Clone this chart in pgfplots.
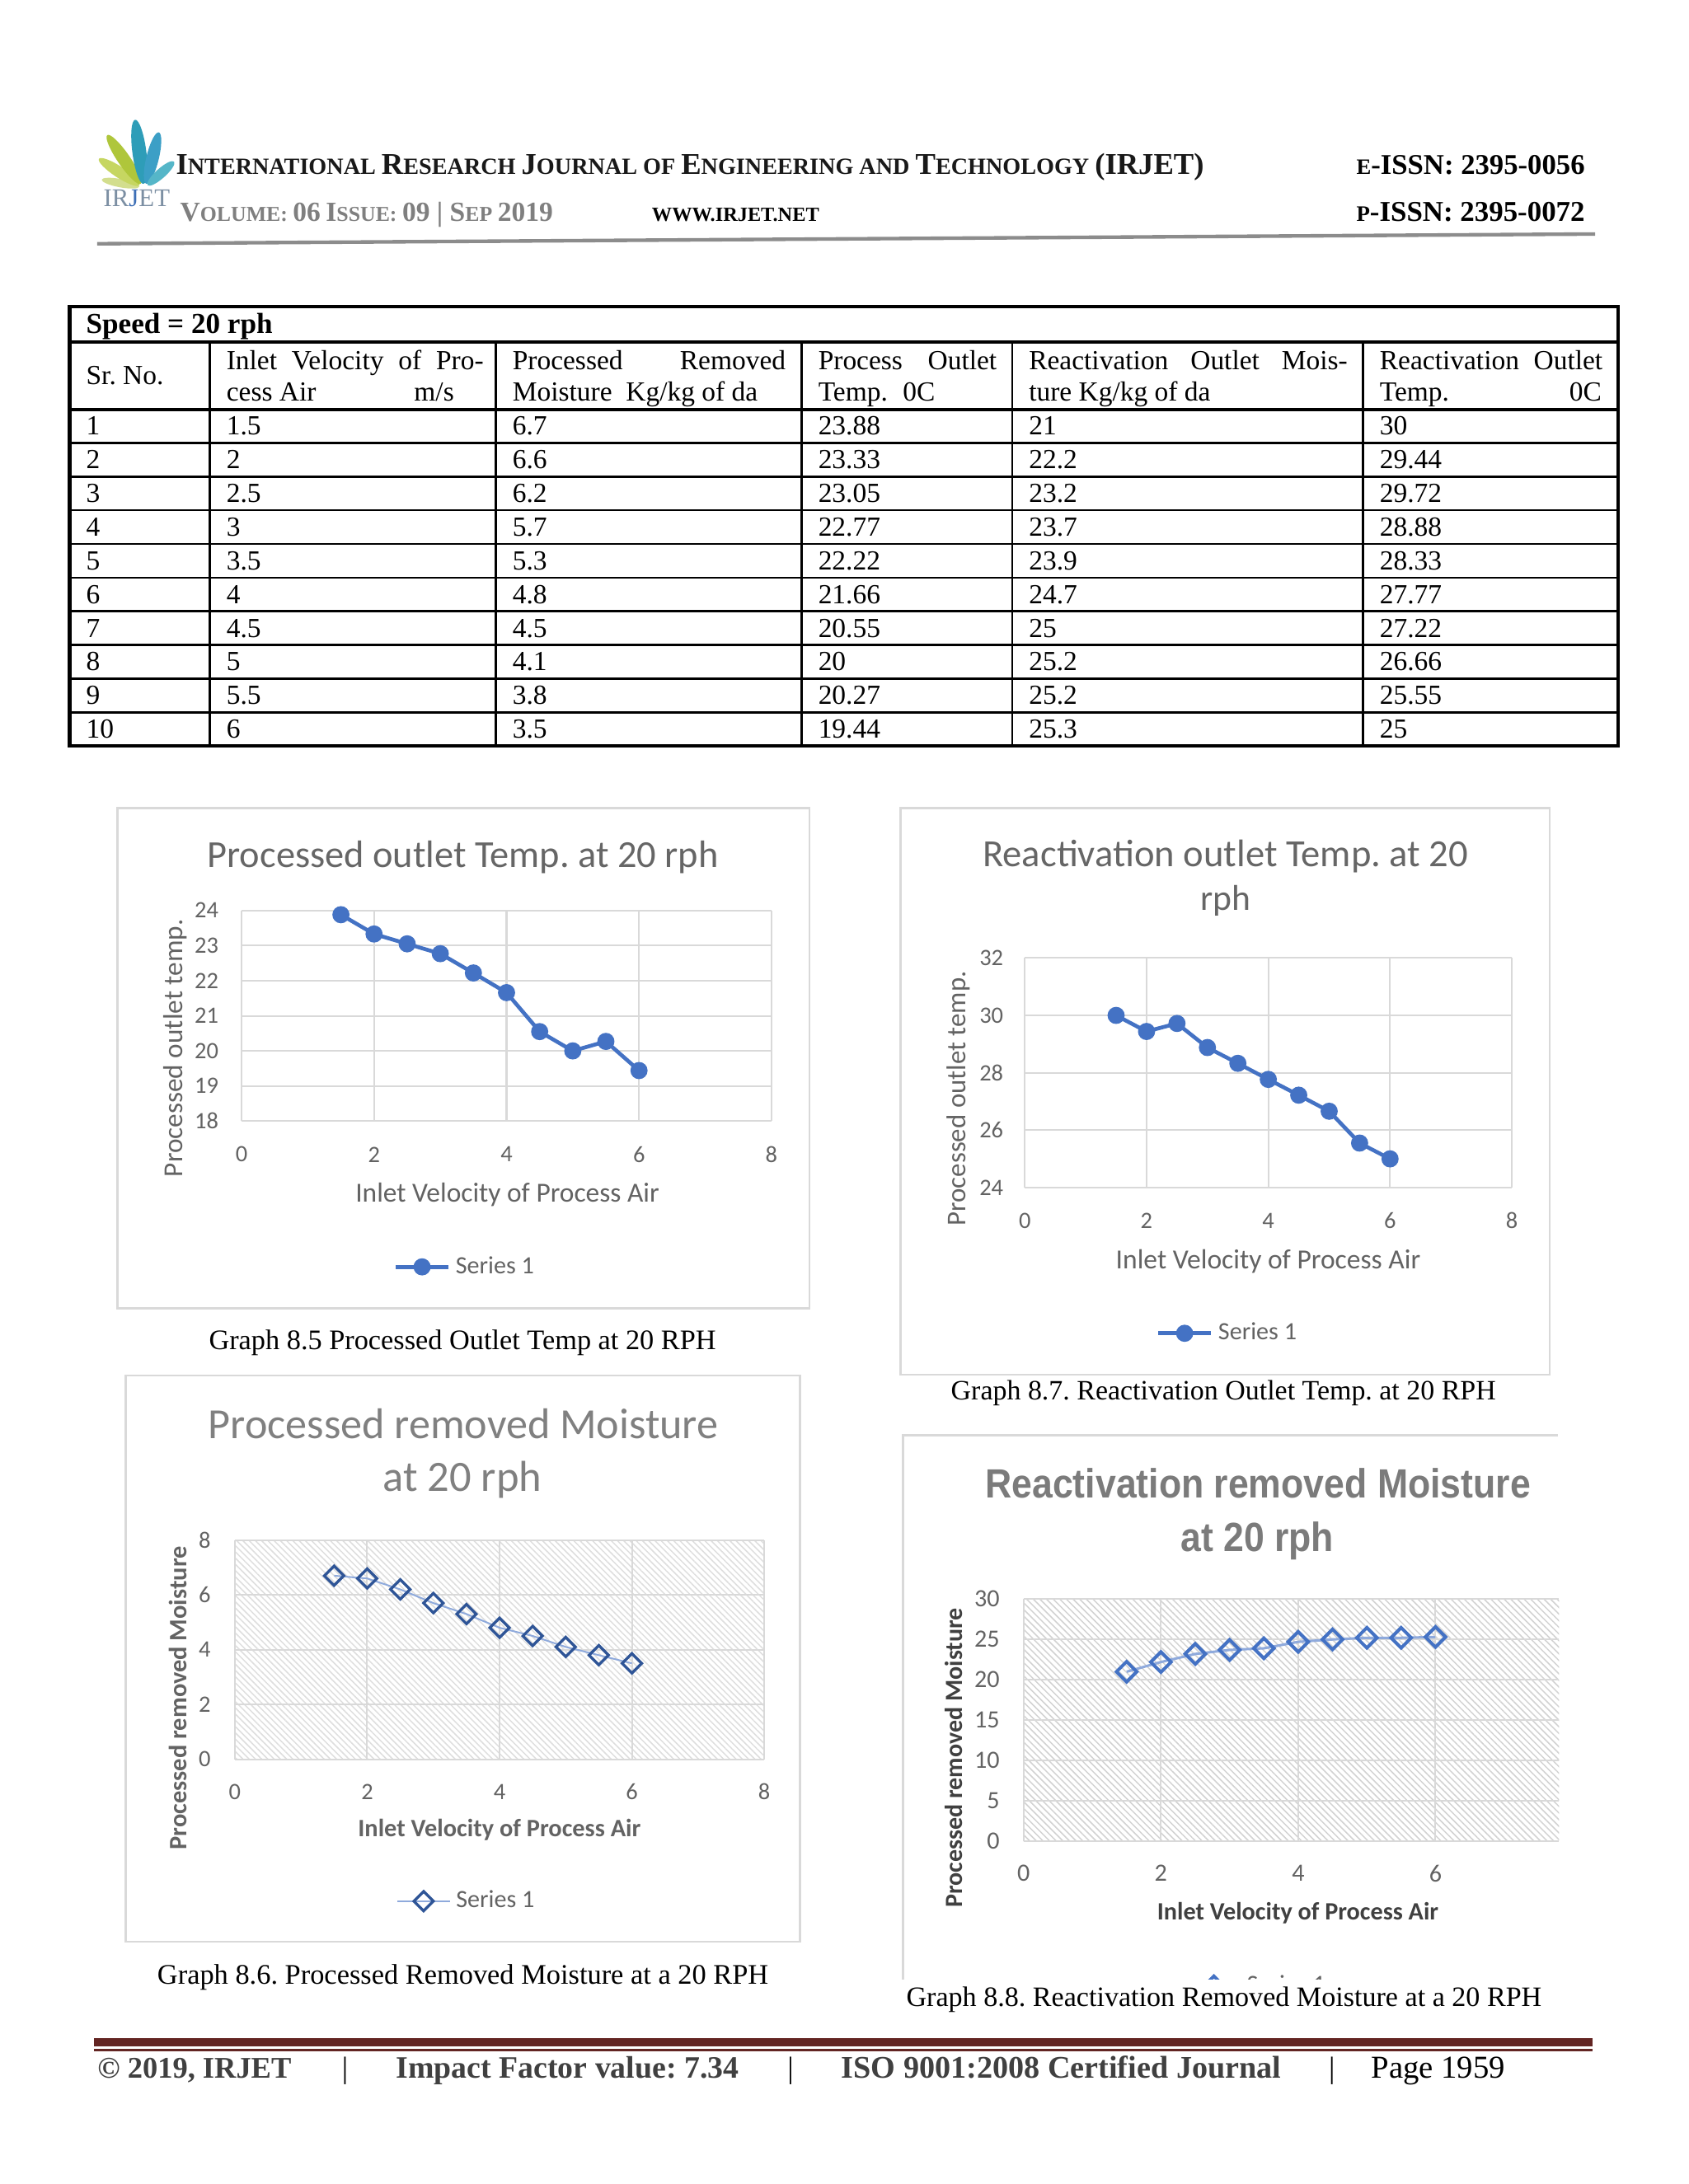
\documentclass[border=0pt]{standalone}
\usepackage{pgfplots}
\pgfplotsset{compat=1.18}
\usepackage{pgfplotstable}
\usepackage{graphicx}
\usepackage{fontspec}
\usetikzlibrary{patterns.meta}
\setmainfont{Liberation Serif}
\newfontfamily\calib{Carlito}
\newfontfamily\arl{Liberation Sans}
\frenchspacing

\definecolor{xblue}{HTML}{4472C4}
\definecolor{dblue}{HTML}{2F5597}
\definecolor{lblue}{HTML}{8FAADC}
\definecolor{gridc}{HTML}{D9D9D9}
\definecolor{labc}{HTML}{636363}
\definecolor{lab4}{HTML}{404040}
\definecolor{tit1}{HTML}{666666}
\definecolor{tit3}{HTML}{808080}
\definecolor{tit4}{HTML}{7B7B7B}
\definecolor{framec}{HTML}{D9D9D9}
\definecolor{hatch3}{HTML}{DEDEDE}
\definecolor{hatch4}{HTML}{D2D2D2}
\definecolor{maroon}{HTML}{632523}
\definecolor{foot}{HTML}{404040}
\definecolor{volc}{HTML}{7F7F7F}
\definecolor{leafg}{HTML}{AFC63B}
\definecolor{leafy}{HTML}{C6D661}
\definecolor{leafp}{HTML}{D3DE8E}
\definecolor{leaft}{HTML}{2E9DB8}
\definecolor{leafb}{HTML}{3C9FC6}
\definecolor{leafc}{HTML}{55B6C8}
\definecolor{logog}{HTML}{7C8FA3}
\definecolor{logob}{HTML}{3D6FB6}

\newcommand\SC[2]{{\fontsize{13}{13}\selectfont #1}{\fontsize{10}{10}\selectfont #2}}

% Speed = 20 rph
\pgfplotstableread{
x pm pt rm rt
1.5 6.7 23.88 21 30
2 6.6 23.33 22.2 29.44
2.5 6.2 23.05 23.2 29.72
3 5.7 22.77 23.7 28.88
3.5 5.3 22.22 23.9 28.33
4 4.8 21.66 24.7 27.77
4.5 4.5 20.55 25 27.22
5 4.1 20 25.2 26.66
5.5 3.8 20.27 25.2 25.55
6 3.5 19.44 25.3 25
}\data

\pgfplotsset{
  xl/.style={scale only axis, anchor=south west,
    xmin=0, xmax=8, xtick={0,2,4,6,8},
    grid=major, major grid style={draw=gridc, line width=0.6pt},
    axis line style={draw=none}, tick style={draw=none},
    tick label style={font=\calib\fontsize{8.5}{9}\selectfont, text=labc, inner sep=0pt},
    /pgf/number format/assume math mode=true,
    legend style={draw=none, fill=none, anchor=center,
      font=\calib\fontsize{9}{10}\selectfont, text=labc},
    legend image code/.code={\draw[mark repeat=2,mark phase=2,##1]
      plot coordinates {(0pt,0pt) (9.5pt,0pt) (19pt,0pt)};}
  },
}

\begin{document}
\begin{tikzpicture}
\useasboundingbox (0pt,0pt) rectangle (612.06pt,-791.84pt);
\fill[white] (0pt,0pt) rectangle (612.06pt,-791.84pt);

\begin{scope}[x=0.505pt,y=-0.505pt]
% logo
\fill[leafp, rotate around={169.5:(86.5,131.5)}] (86.5,131.5) ellipse (13.7 and 3);
\fill[leafy, rotate around={146.8:(85.5,123.5)}] (85.5,123.5) ellipse (17.3 and 4);
\fill[leafg, rotate around={124.4:(89,114.5)}] (89,114.5) ellipse (21.2 and 4.5);
\fill[leaft, rotate around={97.4:(100,109)}] (100,109) ellipse (23.2 and 5);
\fill[leafb, rotate around={76.3:(109.5,113.5)}] (109.5,113.5) ellipse (19 and 4.5);
\fill[leafc, rotate around={41.8:(115.5,124.5)}] (115.5,124.5) ellipse (12.7 and 3.5);
\node[anchor=base west, inner sep=0] at (74,148.5) {\resizebox{24pt}{!}{\color{logog}IR\textcolor{logob}{J}ET}};

% header
\node[anchor=base west, inner sep=0] at (126,125.3) {\resizebox{372.6pt}{!}{\bfseries\color{black!90}\SC{I}{NTERNATIONAL} \SC{R}{ESEARCH} \SC{J}{OURNAL} \SC{}{OF} \SC{E}{NGINEERING} \SC{}{AND} \SC{T}{ECHNOLOGY} {\fontsize{13}{13}\selectfont (IRJET)}}};
\node[anchor=base east, inner sep=0] at (1138,125.3) {\resizebox{82.8pt}{!}{\bfseries\fontsize{13}{13}\selectfont{\fontsize{10}{10}\selectfont E}-ISSN: 2395-0056}};
\node[anchor=base west, inner sep=0] at (129,158.8) {\resizebox{135.1pt}{!}{\bfseries\color{volc}\SC{V}{OLUME}: {\fontsize{13}{13}\selectfont 06} \SC{I}{SSUE}: {\fontsize{13}{13}\selectfont 09 | }\SC{S}{EP} {\fontsize{13}{13}\selectfont 2019}}};
\node[anchor=base west, inner sep=0] at (467.6,158.8) {\resizebox{60.6pt}{!}{\bfseries\fontsize{10}{10}\selectfont WWW.IRJET.NET}};
\node[anchor=base east, inner sep=0] at (1138,158.8) {\resizebox{82.8pt}{!}{\bfseries\fontsize{13}{13}\selectfont{\fontsize{10}{10}\selectfont P}-ISSN: 2395-0072}};
\draw[black!45, line width=1.3pt] (69.7,175) -- (1145,168);

% table
\draw[line width=1.2pt] (50,220) rectangle (1161.4,535.6);
\draw[line width=1.2pt] (50,245.5) -- (1161.4,245.5);
\draw[line width=1.2pt] (50,293.8) -- (1161.4,293.8);
\foreach \i in {1,...,9} \draw[line width=0.8pt] (50,{293.8+24.18*\i}) -- (1161.4,{293.8+24.18*\i});
\foreach \c in {150.6,356,575.5,726.6,978.2} \draw[line width=0.8pt] (\c,245.5) -- (\c,535.6);
\tikzset{cell/.style={anchor=base west, inner sep=0pt, font=\fontsize{10}{12}\selectfont}}
\node[cell, font=\bfseries\fontsize{10.5}{12}\selectfont] at (61.5,239.2) {Speed = 20 rph};
\node[cell] at (61.5,276.2) {Sr. No.};
\node[cell] at (162.2,265.2) {\makebox[93.2pt][s]{Inlet Velocity of Pro-}};
\node[cell] at (162.2,287.6) {cess Air};
\node[cell, anchor=base east] at (326.3,287.6) {m/s};
\node[cell] at (367.5,265.2) {\makebox[99pt][s]{Processed Removed}};
\node[cell] at (367.5,287.6) {Moisture\ \ Kg/kg of da};
\node[cell] at (587,265.2) {\makebox[64.7pt][s]{Process Outlet}};
\node[cell] at (587,287.6) {Temp.};
\node[cell, anchor=base east] at (671.6,287.6) {0C};
\node[cell] at (738.2,265.2) {\makebox[115.5pt][s]{Reactivation Outlet Mois-}};
\node[cell] at (738.2,287.6) {ture Kg/kg of da};
\node[cell] at (990,265.2) {\makebox[80.8pt][s]{Reactivation Outlet}};
\node[cell] at (990,287.6) {Temp.};
\node[cell, anchor=base east] at (1150,287.6) {0C};
\foreach \r/\a/\b/\c/\d/\e/\f in {0/1/1.5/6.7/23.88/21/30, 1/2/2/6.6/23.33/22.2/29.44,
  2/3/2.5/6.2/23.05/23.2/29.72, 3/4/3/5.7/22.77/23.7/28.88, 4/5/3.5/5.3/22.22/23.9/28.33,
  5/6/4/4.8/21.66/24.7/27.77, 6/7/4.5/4.5/20.55/25/27.22, 7/8/5/4.1/20/25.2/26.66,
  8/9/5.5/3.8/20.27/25.2/25.55, 9/10/6/3.5/19.44/25.3/25} {
  \node[cell] at (61.5,{312.3+24.18*\r}) {\a};
  \node[cell] at (162.2,{312.3+24.18*\r}) {\b};
  \node[cell] at (367.5,{312.3+24.18*\r}) {\c};
  \node[cell] at (587,{312.3+24.18*\r}) {\d};
  \node[cell] at (738.2,{312.3+24.18*\r}) {\e};
  \node[cell] at (990,{312.3+24.18*\r}) {\f};
}

% chart frames
\draw[framec, line width=0.8pt] (84.4,580) rectangle (581,939.3);
\draw[framec, line width=0.8pt] (646.6,580.3) rectangle (1112.4,987);
\draw[framec, line width=0.8pt] (90.3,987.5) rectangle (574.3,1394);
\draw[framec, line width=0.8pt] (648,1421) -- (648,1030.6) -- (1118.4,1030.6);

% chart 1 texts
\node[anchor=base, inner sep=0, text=tit1] at (332.3,622.6) {\resizebox{185.3pt}{!}{\calib Processed outlet Temp. at 20 rph}};
\node[anchor=base, inner sep=0, text=labc] at (364.2,863) {\resizebox{110.1pt}{!}{\calib Inlet Velocity of Process Air}};
\node[anchor=base, inner sep=0, text=labc, rotate=90] at (131,752.5) {\resizebox{93.4pt}{!}{\calib Processed outlet temp.}};
% chart 2 texts
\node[anchor=base, inner sep=0, text=tit1] at (879.7,622.2) {\resizebox{176pt}{!}{\calib Reactivation outlet Temp. at 20}};
\node[anchor=base, inner sep=0, text=tit1] at (879.7,653.8) {\resizebox{18.2pt}{!}{\calib rph}};
\node[anchor=base, inner sep=0, text=labc] at (910.3,910.7) {\resizebox{110.4pt}{!}{\calib Inlet Velocity of Process Air}};
\node[anchor=base, inner sep=0, text=labc, rotate=90] at (693,788.6) {\resizebox{92.4pt}{!}{\calib Processed outlet temp.}};
% chart 3 texts
\node[anchor=base, inner sep=0, text=tit3] at (332.6,1032.6) {\resizebox{184.8pt}{!}{\calib Processed removed Moisture}};
\node[anchor=base, inner sep=0, text=tit3] at (332,1070.7) {\resizebox{57.6pt}{!}{\calib at 20 rph}};
\node[anchor=base, inner sep=0, text=labc] at (358.5,1318.8) {\resizebox{102.5pt}{!}{\calib\bfseries Inlet Velocity of Process Air}};
\node[anchor=base, inner sep=0, text=labc, rotate=90] at (134,1219) {\resizebox{110.1pt}{!}{\calib\bfseries Processed removed Moisture}};
% chart 4 texts
\node[anchor=base, inner sep=0, text=tit4] at (903,1075.5) {\scalebox{0.9}[1]{\arl\bfseries\fontsize{14.8}{15}\selectfont Reactivation removed Moisture}};
\node[anchor=base, inner sep=0, text=tit4] at (902.4,1113.8) {\scalebox{0.9}[1]{\arl\bfseries\fontsize{14.8}{15}\selectfont at 20 rph}};
\node[anchor=base, inner sep=0, text=lab4] at (931.6,1378.5) {\resizebox{102pt}{!}{\calib\bfseries Inlet Velocity of Process Air}};
\node[anchor=base, inner sep=0, text=lab4, rotate=90] at (691,1262) {\resizebox{108.6pt}{!}{\calib\bfseries Processed removed Moisture}};

% captions
\node[anchor=base, inner sep=0] at (332,969) {\resizebox{183.8pt}{!}{Graph 8.5 Processed Outlet Temp at 20 RPH}};
\node[anchor=base, inner sep=0] at (878.2,1005) {\resizebox{197.5pt}{!}{Graph 8.7. Reactivation Outlet Temp. at 20 RPH}};
\node[anchor=base, inner sep=0] at (332.3,1424.5) {\resizebox{221.5pt}{!}{Graph 8.6. Processed Removed Moisture at a 20 RPH}};
\node[anchor=base, inner sep=0] at (878.6,1440.5) {\resizebox{230.3pt}{!}{Graph 8.8. Reactivation Removed Moisture at a 20 RPH}};

% footer
\fill[maroon] (67.5,1463) rectangle (1143,1469);
\fill[maroon] (67.5,1470.8) rectangle (1143,1472.6);
\node[anchor=base west, inner sep=0] at (69.7,1492) {\resizebox{70.2pt}{!}{\bfseries\color{foot}© 2019, IRJET}};
\node[anchor=base west, inner sep=0] at (284,1492) {\resizebox{124.2pt}{!}{\bfseries\color{foot}Impact Factor value: 7.34}};
\node[anchor=base west, inner sep=0] at (603.6,1492) {\resizebox{159.4pt}{!}{\bfseries\color{foot}ISO 9001:2008 Certified Journal}};
\node[anchor=base west, inner sep=0] at (984,1492) {\resizebox{48.5pt}{!}{Page 1959}};
\foreach \b in {247.6,567.5,956} \node[anchor=base, inner sep=0] at (\b,1492) {\fontsize{11}{11}\selectfont |};
\end{scope}

% Graph 8.5
\begin{axis}[xl, at={(87.57pt,-406.47pt)}, width=192.1pt, height=76.36pt,
  ymin=18, ymax=24, ytick={18,19,...,24},
  xticklabel style={anchor=center, yshift=-12.1pt},
  yticklabel style={anchor=east, xshift=-8.2pt},
  legend style={at={(0.425,-0.692)}}]
\addplot[xblue, line width=1.4pt, mark=*, mark size=2.4pt, mark options={solid}] table[x=x, y=pt]{\data};
\addlegendentry{Series 1}
\end{axis}

% Graph 8.7
\begin{axis}[xl, at={(371.48pt,-430.56pt)}, width=176.55pt, height=83.22pt,
  ymin=24, ymax=32, ytick={24,26,...,32},
  xticklabel style={anchor=center, yshift=-12pt},
  yticklabel style={anchor=east, xshift=-7.6pt},
  legend style={at={(0.42,-0.635)}}]
\addplot[xblue, line width=1.4pt, mark=*, mark size=2.4pt, mark options={solid}] table[x=x, y=rt]{\data};
\addlegendentry{Series 1}
\end{axis}

% Graph 8.6
\begin{axis}[xl, at={(85.14pt,-637.82pt)}, width=191.9pt, height=79.44pt,
  ymin=0, ymax=8, ytick={0,2,...,8},
  axis background/.style={pattern={Lines[angle=-45,distance=1.6pt,line width=0.45pt]}, pattern color=hatch3},
  xticklabel style={anchor=center, yshift=-11.8pt},
  yticklabel style={anchor=east, xshift=-8.6pt},
  legend style={at={(0.441,-0.648)}}]
\addplot[lblue, line width=0.6pt, mark=square, mark size=2.5pt,
  mark options={solid, rotate=45, draw=dblue, fill=blue!8, line width=1pt}] table[x=x, y=pm]{\data};
\addlegendentry{Series 1}
\end{axis}

% Graph 8.8
\begin{scope}
\clip (323.2pt,-517.6pt) rectangle (568.1pt,-717.6pt);
\begin{axis}[xl, at={(371.07pt,-667.61pt)}, width=194.07pt, height=87.87pt,
  xmax=7.8, xtick={0,2,4,6},
  ymin=0, ymax=30, ytick={0,5,...,30},
  tick label style={font=\calib\fontsize{9}{10}\selectfont, text=labc},
  axis background/.style={pattern={Lines[angle=-45,distance=1.7pt,line width=0.45pt]}, pattern color=hatch4},
  xticklabel style={anchor=center, yshift=-11.6pt},
  yticklabel style={anchor=east, xshift=-8.5pt},
  legend style={at={(0.439,-0.598)}}]
\addplot[lblue, line width=0.9pt, mark=square, mark size=2.6pt,
  mark options={solid, rotate=45, draw=xblue, fill=white, line width=1.2pt}] table[x=x, y=rm]{\data};
\addlegendentry{Series 1}
\end{axis}
\end{scope}
\end{tikzpicture}
\end{document}
